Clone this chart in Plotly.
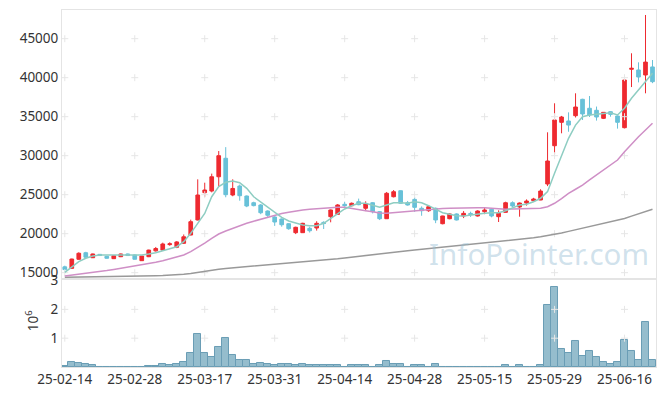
import plotly.graph_objects as go

dates = [
    "25-02-14", "25-02-17", "25-02-18", "25-02-19", "25-02-20", "25-02-21",
    "25-02-24", "25-02-25", "25-02-26", "25-02-27", "25-02-28",
    "25-03-04", "25-03-05", "25-03-06", "25-03-07", "25-03-10", "25-03-11",
    "25-03-12", "25-03-13", "25-03-14", "25-03-17", "25-03-18", "25-03-19",
    "25-03-20", "25-03-21", "25-03-24", "25-03-25", "25-03-26", "25-03-27",
    "25-03-28", "25-03-31",
    "25-04-01", "25-04-02", "25-04-03", "25-04-04", "25-04-07", "25-04-08",
    "25-04-09", "25-04-10", "25-04-11", "25-04-14", "25-04-15", "25-04-16",
    "25-04-17", "25-04-18", "25-04-21", "25-04-22", "25-04-23", "25-04-24",
    "25-04-25", "25-04-28", "25-04-29", "25-04-30",
    "25-05-02", "25-05-07", "25-05-08", "25-05-09", "25-05-12", "25-05-13",
    "25-05-14", "25-05-15", "25-05-16", "25-05-19", "25-05-20", "25-05-21",
    "25-05-22", "25-05-23", "25-05-26", "25-05-27", "25-05-28", "25-05-29",
    "25-05-30",
    "25-06-02", "25-06-04", "25-06-05", "25-06-09", "25-06-10", "25-06-11",
    "25-06-12", "25-06-13", "25-06-16", "25-06-17", "25-06-18", "25-06-19",
    "25-06-20",
]

open_ = [15750, 15560, 16720, 17560, 16920, 17350, 17100, 16800, 17050, 17400,
         17270, 16540, 17050, 17800, 17900, 18600, 18260, 18770, 19830, 21760,
         25260, 25470, 27300, 29670, 24960, 26110, 24830, 23970, 23680, 22910,
         22140, 21880, 21280, 20130, 20130, 20690, 20730, 21450, 22180, 22480,
         23770, 23590, 24100, 23260, 23970, 22820, 21920, 24740, 25510, 23970,
         24400, 23260, 22950, 23260, 21280, 21920, 22530, 22270, 22600, 22270,
         22820, 23130, 22180, 22740, 23970, 23420, 23930, 24230, 24320, 26370,
         31280, 34280, 34450, 35130, 37230, 36080, 35820, 34790, 35640, 35090,
         33590, 41080, 40990, 40350, 41380]
high = [15900, 16800, 17620, 17680, 17450, 17400, 17150, 17200, 17450, 17450,
        17350, 17150, 17950, 18300, 18850, 18900, 19050, 19900, 21800, 26970,
        26540, 27700, 30600, 31100, 26970, 26300, 24900, 24100, 23800, 23000,
        22250, 21950, 21350, 20900, 21400, 20900, 21600, 21600, 23100, 23800,
        24100, 24000, 24500, 24150, 24050, 22900, 25350, 25600, 25550, 24200,
        24700, 23500, 23650, 23350, 22300, 22600, 22600, 22900, 22820, 23000,
        23300, 23300, 23000, 24100, 24150, 24000, 24400, 24600, 25700, 33000,
        36720, 35100, 35560, 38000, 37300, 37650, 36300, 35600, 35700, 35150,
        39800, 43130, 41970, 48040, 42270]
low = [15300, 15500, 16650, 16850, 16880, 17150, 16800, 16750, 17000, 17150,
       16700, 16500, 17000, 17700, 17880, 18450, 18150, 18700, 19800, 21700,
       24740, 25300, 26000, 24670, 24800, 24230, 23400, 23500, 22500, 22150,
       21000, 20900, 20500, 19950, 20100, 20150, 20400, 20600, 21460, 22400,
       23450, 23500, 23650, 22900, 22600, 21750, 21900, 24650, 23850, 23600,
       22800, 22300, 22800, 21350, 21200, 21850, 21700, 22000, 22150, 22200,
       22500, 22100, 21500, 22700, 23400, 22180, 23600, 24200, 24300, 26100,
       30180, 32870, 33070, 34900, 34580, 34960, 34500, 34700, 35000, 33470,
       33500, 38800, 39400, 38000, 39300]
close = [15400, 16750, 17490, 16980, 17400, 17200, 16850, 17180, 17400, 17200,
         16720, 17140, 17900, 18100, 18680, 18700, 18940, 19600, 21540, 24960,
         25600, 27300, 30000, 25000, 25800, 24870, 23550, 23600, 22690, 22360,
         21500, 21150, 20640, 20820, 21330, 20380, 21330, 21300, 23040, 23680,
         23590, 23900, 23720, 23810, 22820, 21920, 25180, 25380, 23900, 23680,
         23380, 22950, 23460, 21760, 22270, 22530, 21760, 22610, 22450, 22910,
         23040, 22270, 22610, 23970, 23550, 23930, 24190, 24450, 25470, 29320,
         34580, 34960, 33930, 36240, 35350, 35220, 34960, 35560, 35300, 34280,
         39700, 41200, 40090, 42000, 39490]

ma_short = [15050, 15770, 16410, 16850, 17140, 17270, 17270, 17250, 17250, 17250,
            17250, 17260, 17400, 17560, 17820, 18080, 18330, 18970, 20050, 21330,
            22600, 24740, 26030, 26590, 26760, 26540, 25820, 24740, 24100, 23460,
            22740, 22100, 21630, 21330, 21120, 21030, 21030, 21330, 21970, 22610,
            23170, 23590, 23900, 23900, 23680, 23380, 23680, 23970, 23970, 23900,
            24100, 23970, 23590, 23130, 22690, 22490, 22310, 22270, 22400, 22490,
            22610, 22690, 22690, 22950, 23350, 23680, 23770, 24100, 24540, 25390,
            27740, 30090, 32230, 33930, 35000, 35220, 35300, 35430, 35510, 35220,
            36080, 37360, 38420, 39410, 40560]
ma_mid = [14580, 14680, 14790, 14900, 15010, 15130, 15270, 15410, 15560, 15700,
          15850, 15990, 16170, 16350, 16540, 16760, 17000, 17270, 17690, 18200,
          18800, 19400, 19960, 20350, 20690, 21020, 21330, 21600, 21850, 22120,
          22400, 22580, 22740, 22900, 23040, 23120, 23200, 23290, 23380, 23400,
          23380, 23260, 23100, 22950, 22800, 22650, 22610, 22690, 22750, 22820,
          22930, 23040, 23100, 23170, 23220, 23260, 23300, 23340, 23340, 23340,
          23330, 23260, 23200, 23150, 23170, 23170, 23160, 23170, 23250, 23460,
          23900, 24500, 25180, 25700, 26240, 26900, 27520, 28100, 28720, 29450,
          30510, 31500, 32440, 33300, 34150]
ma_long = [14410, 14420, 14430, 14440, 14460, 14480, 14490, 14510, 14520, 14540,
           14560, 14580, 14600, 14620, 14650, 14680, 14730, 14800, 14900, 15050,
           15200, 15330, 15450, 15540, 15620, 15700, 15770, 15840, 15910, 15980,
           16050, 16120, 16190, 16260, 16330, 16400, 16500, 16600, 16700, 16800,
           16900, 17010, 17120, 17230, 17340, 17450, 17540, 17630, 17720, 17810,
           17900, 17990, 18080, 18170, 18260, 18350, 18430, 18510, 18590, 18670,
           18750, 18850, 18950, 19050, 19150, 19250, 19370, 19480, 19600, 19750,
           19900, 20100, 20300, 20500, 20700, 20900, 21100, 21300, 21500, 21720,
           21950, 22250, 22550, 22850, 23130]

volume = [46000, 180000, 150000, 110000, 60000, 12000, 12000, 12000, 12000, 5000,
          12000, 12000, 50000, 20000, 120000, 70000, 90000, 160000, 470000, 1140000,
          500000, 330000, 710000, 1010000, 430000, 230000, 230000, 90000, 150000, 90000,
          60000, 90000, 90000, 60000, 90000, 60000, 60000, 60000, 60000, 60000,
          12000, 60000, 60000, 60000, 12000, 60000, 220000, 90000, 90000, 12000,
          60000, 60000, 12000, 90000, 12000, 12000, 12000, 12000, 12000, 12000,
          12000, 12000, 12000, 60000, 12000, 60000, 12000, 12000, 60000, 2150000,
          2770000, 640000, 470000, 900000, 370000, 540000, 330000, 180000, 90000, 180000,
          950000, 540000, 230000, 1550000, 260000]

x_tick_idx = [0, 10, 20, 30, 40, 50, 60, 70, 80]
price_ticks = [15000, 20000, 25000, 30000, 35000, 40000, 45000]
price_tick_text = ["15000", "20000", "25000", "30000", "35000", "40000", "45000"]
vol_ticks = [1000000, 2000000, 3000000]
vol_tick_text = ["1", "2", "3"]

RED = "#ee2a30"
BLUE = "#68c1d8"
GRID = "#e6e6e6"
AXIS = "#e4e4e4"
FONT = dict(family="Noto Sans, DejaVu Sans, sans-serif", size=13.5, color="#333333")

x_ticks = [dates[i] for i in x_tick_idx]

fig = go.Figure()

# grid crosses (price panel)
gx = [xt for xt in x_ticks for _ in price_ticks]
gy = [pt for _ in x_ticks for pt in price_ticks]
fig.add_trace(go.Scatter(x=gx, y=gy, mode="markers", xaxis="x", yaxis="y",
                         marker=dict(symbol="cross-thin", size=5,
                                     line=dict(color=GRID, width=1)),
                         hoverinfo="skip", showlegend=False))
# grid crosses (volume panel)
vx = [xt for xt in x_ticks for _ in vol_ticks[:2]]
vy = [vt for _ in x_ticks for vt in vol_ticks[:2]]
fig.add_trace(go.Scatter(x=vx, y=vy, mode="markers", xaxis="x2", yaxis="y2",
                         marker=dict(symbol="cross-thin", size=5,
                                     line=dict(color=GRID, width=1)),
                         hoverinfo="skip", showlegend=False))

fig.add_trace(go.Scatter(x=dates, y=ma_long, mode="lines", xaxis="x", yaxis="y",
                         line=dict(color="#999999", width=1.5), showlegend=False))
fig.add_trace(go.Scatter(x=dates, y=ma_mid, mode="lines", xaxis="x", yaxis="y",
                         line=dict(color="#cf8fc6", width=1.5), showlegend=False))
fig.add_trace(go.Scatter(x=dates, y=ma_short, mode="lines", xaxis="x", yaxis="y",
                         line=dict(color="#8ecdc2", width=1.5), showlegend=False))

fig.add_trace(go.Candlestick(
    x=dates, open=open_, high=high, low=low, close=close,
    xaxis="x", yaxis="y",
    increasing=dict(line=dict(color=RED, width=1), fillcolor=RED),
    decreasing=dict(line=dict(color=BLUE, width=1), fillcolor=BLUE),
    whiskerwidth=0, showlegend=False))

fig.add_trace(go.Bar(x=dates, y=volume, xaxis="x2", yaxis="y2", width=1.0,
                     marker=dict(color="#95bdcd",
                                 line=dict(color="#6a9db5", width=1)),
                     showlegend=False))

n = len(dates)
fig.update_layout(
    width=665, height=396,
    margin=dict(l=62, r=9, t=10, b=29),
    paper_bgcolor="white", plot_bgcolor="white",
    font=FONT,
    showlegend=False,
    boxgap=0.25,
    xaxis=dict(type="category", domain=[0, 1], anchor="y",
               range=[-0.4, n - 0.5], showticklabels=False, ticks="",
               showgrid=False, zeroline=False, showline=True, mirror=True,
               linecolor=AXIS, linewidth=1, automargin=False,
               rangeslider=dict(visible=False), categoryorder="array",
               categoryarray=dates),
    yaxis=dict(domain=[0.2493, 1.0], anchor="x", range=[14320, 48680],
               tickvals=price_ticks, ticktext=price_tick_text,
               showgrid=False, zeroline=False, automargin=False,
               showline=True, mirror=True, linecolor=AXIS, linewidth=1,
               ticks="", tickfont=FONT),
    xaxis2=dict(type="category", domain=[0, 1], anchor="y2", matches="x",
                tickvals=x_ticks, ticktext=x_ticks, ticks="",
                showgrid=False, zeroline=False, showline=True, mirror=True,
                linecolor=AXIS, linewidth=1, tickfont=FONT, automargin=False,
                categoryorder="array", categoryarray=dates),
    yaxis2=dict(domain=[0, 0.2437], anchor="x2", range=[0, 3020000],
                tickvals=vol_ticks, ticktext=vol_tick_text, automargin=False,
                showgrid=False, zeroline=False, showline=True, mirror=True,
                linecolor=AXIS, linewidth=1, ticks="", tickfont=FONT),
    bargap=0,
    annotations=[
        dict(text="InfoPointer.com", xref="paper", yref="paper",
             x=0.992, y=0.256, xanchor="right", yanchor="bottom",
             showarrow=False,
             font=dict(family="Noto Sans, DejaVu Sans, sans-serif", size=29.5,
                       color="rgba(150,190,212,0.45)")),
        dict(text="10<sup>6</sup>", xref="paper", yref="paper",
             x=-0.05, y=0.129, xanchor="center", yanchor="middle",
             textangle=-90, showarrow=False, font=FONT),
    ],
)

fig.write_html("out.html",
               config={"displayModeBar": False},
               post_script="document.body.style.margin='0';"
                           "document.body.style.padding='0';")
